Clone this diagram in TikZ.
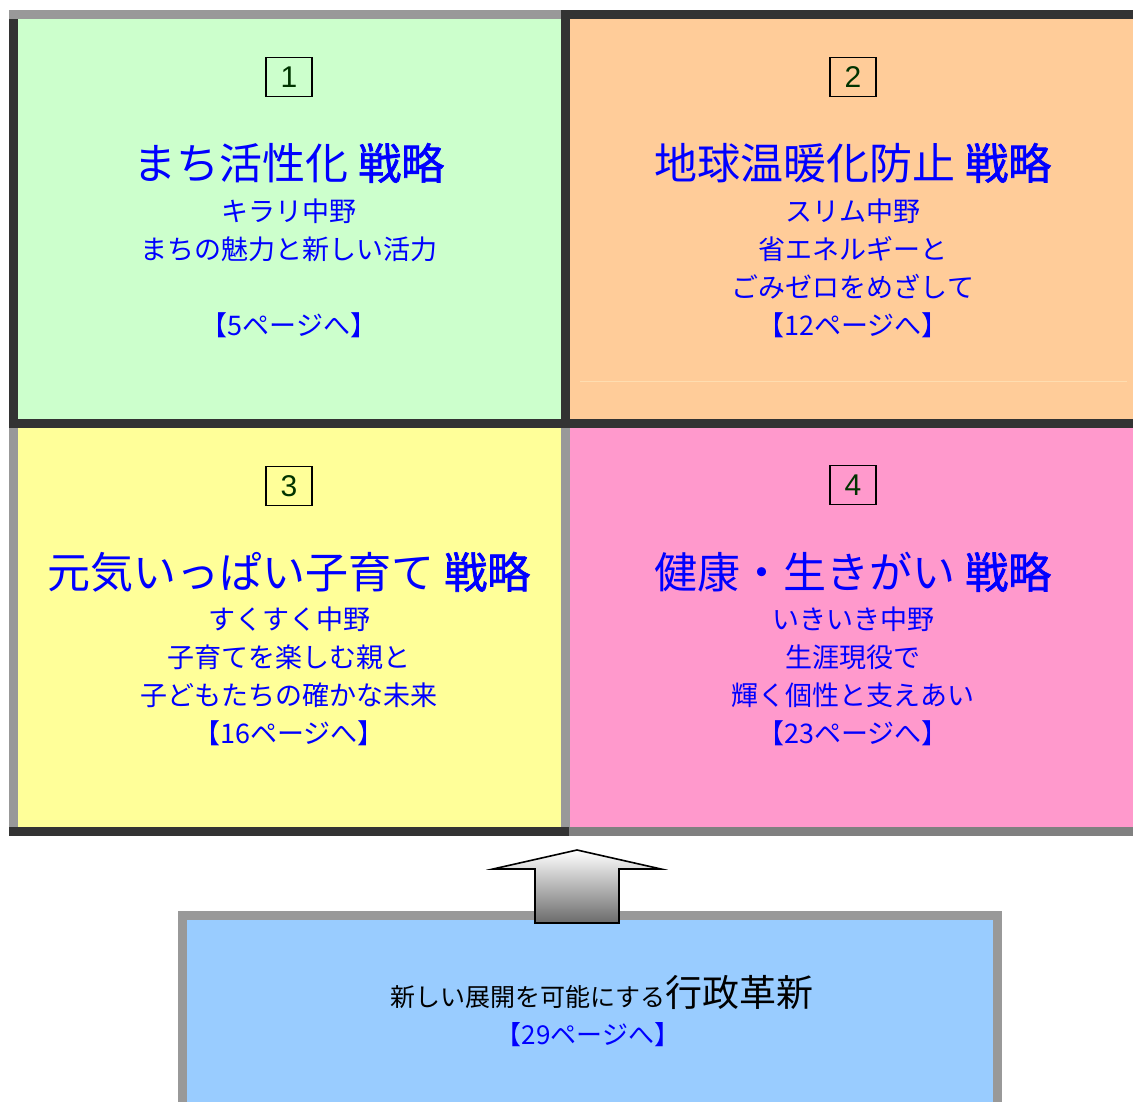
\documentclass[tikz,border=0pt]{standalone}
\usepackage{fontspec}
\setmainfont{Noto Sans CJK JP}
\newfontfamily\semib{Noto Sans CJK JP}[FakeBold=1.6]
\newfontfamily\numfont{Liberation Sans}
\definecolor{cgreen}{HTML}{CCFFCC}
\definecolor{corange}{HTML}{FFCC99}
\definecolor{cyellow}{HTML}{FFFF99}
\definecolor{cpink}{HTML}{FF99CC}
\definecolor{cblue}{HTML}{99CCFF}
\definecolor{bdark}{HTML}{333333}
\definecolor{bgray}{HTML}{999999}
\definecolor{bgraytwo}{HTML}{808080}
\definecolor{faintline}{HTML}{FFDDB0}
\definecolor{textblue}{HTML}{0000FF}
\definecolor{numgreen}{HTML}{003300}
\begin{document}
\begin{tikzpicture}[x=1pt,y=-1pt,
  title/.style={text=textblue, font=\fontsize{43}{43}\selectfont, inner sep=0pt},
  sub/.style={text=textblue, font=\fontsize{27}{27}\selectfont, inner sep=0pt},
  numbox/.style={draw=black, line width=1.6pt, minimum width=46pt, minimum height=39pt, inner sep=0pt, text=numgreen, font=\numfont\fontsize{30}{30}\selectfont},
  blockarrow/.style={draw=black, line width=1.6pt, line join=miter, top color=white, bottom color=black!58}
]
\useasboundingbox (0,0) rectangle (1133,1102);
\fill[white] (0,0) rectangle (1133,1102);
% cells
\fill[cgreen] (14,14) rectangle (566,424);
\fill[corange] (566,14) rectangle (1133,424);
\fill[cyellow] (14,424) rectangle (566,832);
\fill[cpink] (566,424) rectangle (1133,832);
\draw[faintline, line width=1pt] (580,381) -- (1127,381);
% borders
\fill[bgray] (9,10) rectangle (561,19);
\fill[bdark] (561,10) rectangle (1133,19);
\fill[bdark] (9,19) rectangle (18,424);
\fill[bgray] (9,424) rectangle (18,836);
\fill[bdark] (561,10) rectangle (570,424);
\fill[bgray] (561,428) rectangle (570,831);
\fill[bdark] (9,419) rectangle (1133,428);
\fill[bdark] (9,827) rectangle (569,836);
\fill[bgraytwo] (569,827) rectangle (1133,836);
% bottom box
\fill[bgray] (178,911) rectangle (1002,1102);
\fill[cblue] (187,920) rectangle (993,1102);
% block arrow
\draw[blockarrow] (577,850) -- (661,869) -- (619,869) -- (619,923) -- (535,923) -- (535,869) -- (493,869) -- cycle;
% cell 1
\node[numbox] (n1) at (289,77) {1};
\node[title] (t1) at (289,163) {まち活性化 {\semib 戦略}};
\node[sub] (s1a) at (289,211) {キラリ中野};
\node[sub] (s1b) at (289,249) {まちの魅力と新しい活力};
\node[sub] (p1) at (289,325) {【5ページへ】};
% cell 2
\node[numbox] (n2) at (853,77) {2};
\node[title] (t2) at (853,163) {地球温暖化防止 {\semib 戦略}};
\node[sub] (s2a) at (853,211) {スリム中野};
\node[sub] (s2b) at (853,249) {省エネルギーと};
\node[sub] (s2c) at (853,287) {ごみゼロをめざして};
\node[sub] (p2) at (853,325) {【12ページへ】};
% cell 3
\node[numbox] (n3) at (289,486) {3};
\node[title] (t3) at (289,572) {元気いっぱい子育て {\semib 戦略}};
\node[sub] (s3a) at (289,619) {すくすく中野};
\node[sub] (s3b) at (289,657) {子育てを楽しむ親と};
\node[sub] (s3c) at (289,695) {子どもたちの確かな未来};
\node[sub] (p3) at (289,733) {【16ページへ】};
% cell 4
\node[numbox] (n4) at (853,485) {4};
\node[title] (t4) at (853,572) {健康・生きがい {\semib 戦略}};
\node[sub] (s4a) at (853,619) {いきいき中野};
\node[sub] (s4b) at (853,657) {生涯現役で};
\node[sub] (s4c) at (853,695) {輝く個性と支えあい};
\node[sub] (p4) at (853,733) {【23ページへ】};
% bottom text
\node[anchor=base, inner sep=0pt] (b1) at (602,1006) {{\fontsize{25}{25}\selectfont 新しい展開を可能にする}{\fontsize{37}{37}\selectfont 行政革新}};
\node[text=textblue, font=\fontsize{26}{26}\selectfont, inner sep=0pt] (b2) at (588,1035) {【29ページへ】};
\end{tikzpicture}
\end{document}
